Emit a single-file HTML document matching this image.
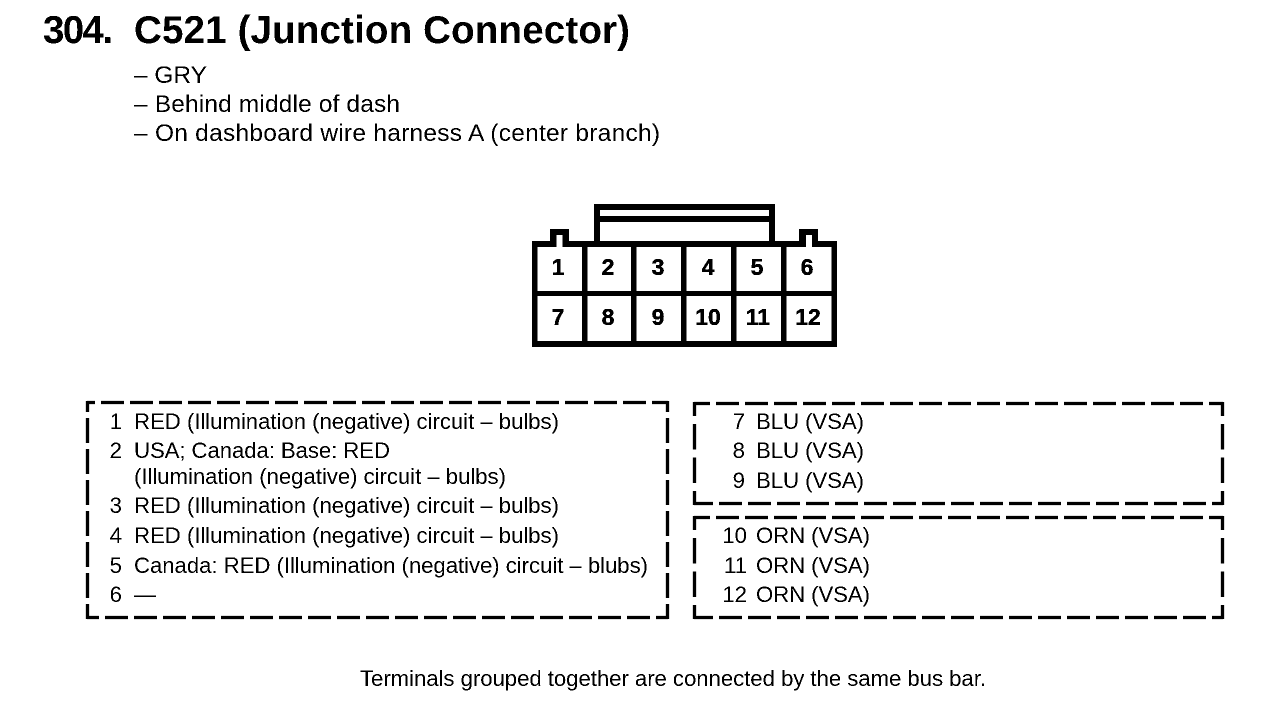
<!DOCTYPE html>
<html><head><meta charset="utf-8"><style>
html,body{margin:0;padding:0;background:#fff;width:1264px;height:712px;overflow:hidden}
svg{display:block}
text{font-family:"Liberation Sans",sans-serif;fill:#000}
.s{font-size:24.5px}
.t{font-size:22.2px}
.b{font-size:23px;font-weight:bold;text-anchor:middle;stroke:#000;stroke-width:.4}
.n{font-size:22.2px;text-anchor:end}
.h{font-size:38.5px;font-weight:bold}
.d{fill:none;stroke:#000;stroke-width:3.300}
.hz{stroke-dasharray:23 6}
.v1{stroke-dasharray:25 6}
.v2{stroke-dasharray:25.500 8}
</style></head><body>
<svg width="1264" height="712" viewBox="0 0 1264 712" xmlns="http://www.w3.org/2000/svg">
<defs><filter id="a" x="0" y="0" width="100%" height="100%" filterUnits="userSpaceOnUse" primitiveUnits="userSpaceOnUse" color-interpolation-filters="sRGB"><feComponentTransfer><feFuncA type="discrete" tableValues="0 1"/></feComponentTransfer></filter></defs>
<g filter="url(#a)">
<text class="h" x="43" y="43" textLength="70">304.</text>
<text class="h" x="134" y="43" textLength="496">C521 (Junction Connector)</text>
<text class="s" x="134" y="83" textLength="73">– GRY</text>
<text class="s" x="134" y="112" textLength="266">– Behind middle of dash</text>
<text class="s" x="134" y="141" textLength="526">– On dashboard wire harness A (center branch)</text>
<text class="b" x="558" y="275">1</text>
<text class="b" x="608" y="275">2</text>
<text class="b" x="658" y="275">3</text>
<text class="b" x="708" y="275">4</text>
<text class="b" x="757" y="275">5</text>
<text class="b" x="807" y="275">6</text>
<text class="b" x="558" y="325">7</text>
<text class="b" x="608" y="325">8</text>
<text class="b" x="658" y="325">9</text>
<text class="b" x="708" y="325">10</text>
<text class="b" x="758" y="325">11</text>
<text class="b" x="808" y="325">12</text>
<text class="n" x="122" y="429">1</text>
<text class="t" x="134" y="429" textLength="425">RED (Illumination (negative) circuit – bulbs)</text>
<text class="n" x="122" y="458">2</text>
<text class="t" x="134" y="458" textLength="256">USA; Canada: Base: RED</text>
<text class="t" x="134" y="484" textLength="372">(Illumination (negative) circuit – bulbs)</text>
<text class="n" x="122" y="513">3</text>
<text class="t" x="134" y="513" textLength="425">RED (Illumination (negative) circuit – bulbs)</text>
<text class="n" x="122" y="543">4</text>
<text class="t" x="134" y="543" textLength="425">RED (Illumination (negative) circuit – bulbs)</text>
<text class="n" x="122" y="573">5</text>
<text class="t" x="134" y="573" textLength="514">Canada: RED (Illumination (negative) circuit – blubs)</text>
<text class="n" x="122" y="602">6</text>
<text class="t" x="134" y="602">—</text>
<text class="n" x="745" y="429">7</text>
<text class="t" x="756" y="429" textLength="108">BLU (VSA)</text>
<text class="n" x="745" y="458">8</text>
<text class="t" x="756" y="458" textLength="108">BLU (VSA)</text>
<text class="n" x="745" y="488">9</text>
<text class="t" x="756" y="488" textLength="108">BLU (VSA)</text>
<text class="n" x="747" y="543">10</text>
<text class="t" x="756" y="543" textLength="114">ORN (VSA)</text>
<text class="n" x="747" y="573">11</text>
<text class="t" x="756" y="573" textLength="114">ORN (VSA)</text>
<text class="n" x="747" y="602">12</text>
<text class="t" x="756" y="602" textLength="114">ORN (VSA)</text>
<text class="t" x="360" y="686" textLength="626">Terminals grouped together are connected by the same bus bar.</text>
</g>

<g fill="#000">
<rect x="594" y="204" width="6" height="40"/>
<rect x="769" y="204" width="6" height="40"/>
<rect x="594" y="204" width="181" height="6"/>
<rect x="594" y="216" width="181" height="6"/>
<rect x="550" y="229" width="19" height="14"/>
<rect x="799" y="229" width="19" height="14"/>
<rect x="532" y="241" width="305" height="6"/>
<rect x="532" y="291" width="305" height="5"/>
<rect x="532" y="341" width="305" height="6"/>
<rect x="532" y="241" width="5.500" height="106"/>
<rect x="582" y="241" width="5.500" height="106"/>
<rect x="631" y="241" width="5.500" height="106"/>
<rect x="681" y="241" width="5.500" height="106"/>
<rect x="731" y="241" width="5.500" height="106"/>
<rect x="781" y="241" width="5.500" height="106"/>
<rect x="831.500" y="241" width="5.500" height="106"/>
</g>
<rect x="556.500" y="235" width="6" height="12" fill="#fff"/>
<rect x="806" y="235" width="6" height="12" fill="#fff"/>

<!-- left box -->
<path class="d hz" stroke-dashoffset="7" d="M668 402.500H87"/>
<path class="d hz" stroke-dashoffset="11" d="M668 617.500H87"/>
<path class="d v1" stroke-dashoffset="14" d="M87.500 401V619"/>
<path class="d v1" stroke-dashoffset="14" d="M667.500 401V619"/>
<!-- right top box -->
<path class="d hz" stroke-dashoffset="9" d="M1223 403.500H694"/>
<path class="d hz" stroke-dashoffset="12" d="M1223 503.500H694"/>
<path class="d v2" stroke-dashoffset="11.500" d="M694.500 402V505"/>
<path class="d v2" stroke-dashoffset="11.500" d="M1222.500 402V505"/>
<!-- right bottom box -->
<path class="d hz" stroke-dashoffset="9" d="M1223 517.500H694"/>
<path class="d hz" stroke-dashoffset="12" d="M1223 617.500H694"/>
<path class="d v2" stroke-dashoffset="11.500" d="M694.500 516V619"/>
<path class="d v2" stroke-dashoffset="11.500" d="M1222.500 516V619"/>
</svg>
</body></html>
